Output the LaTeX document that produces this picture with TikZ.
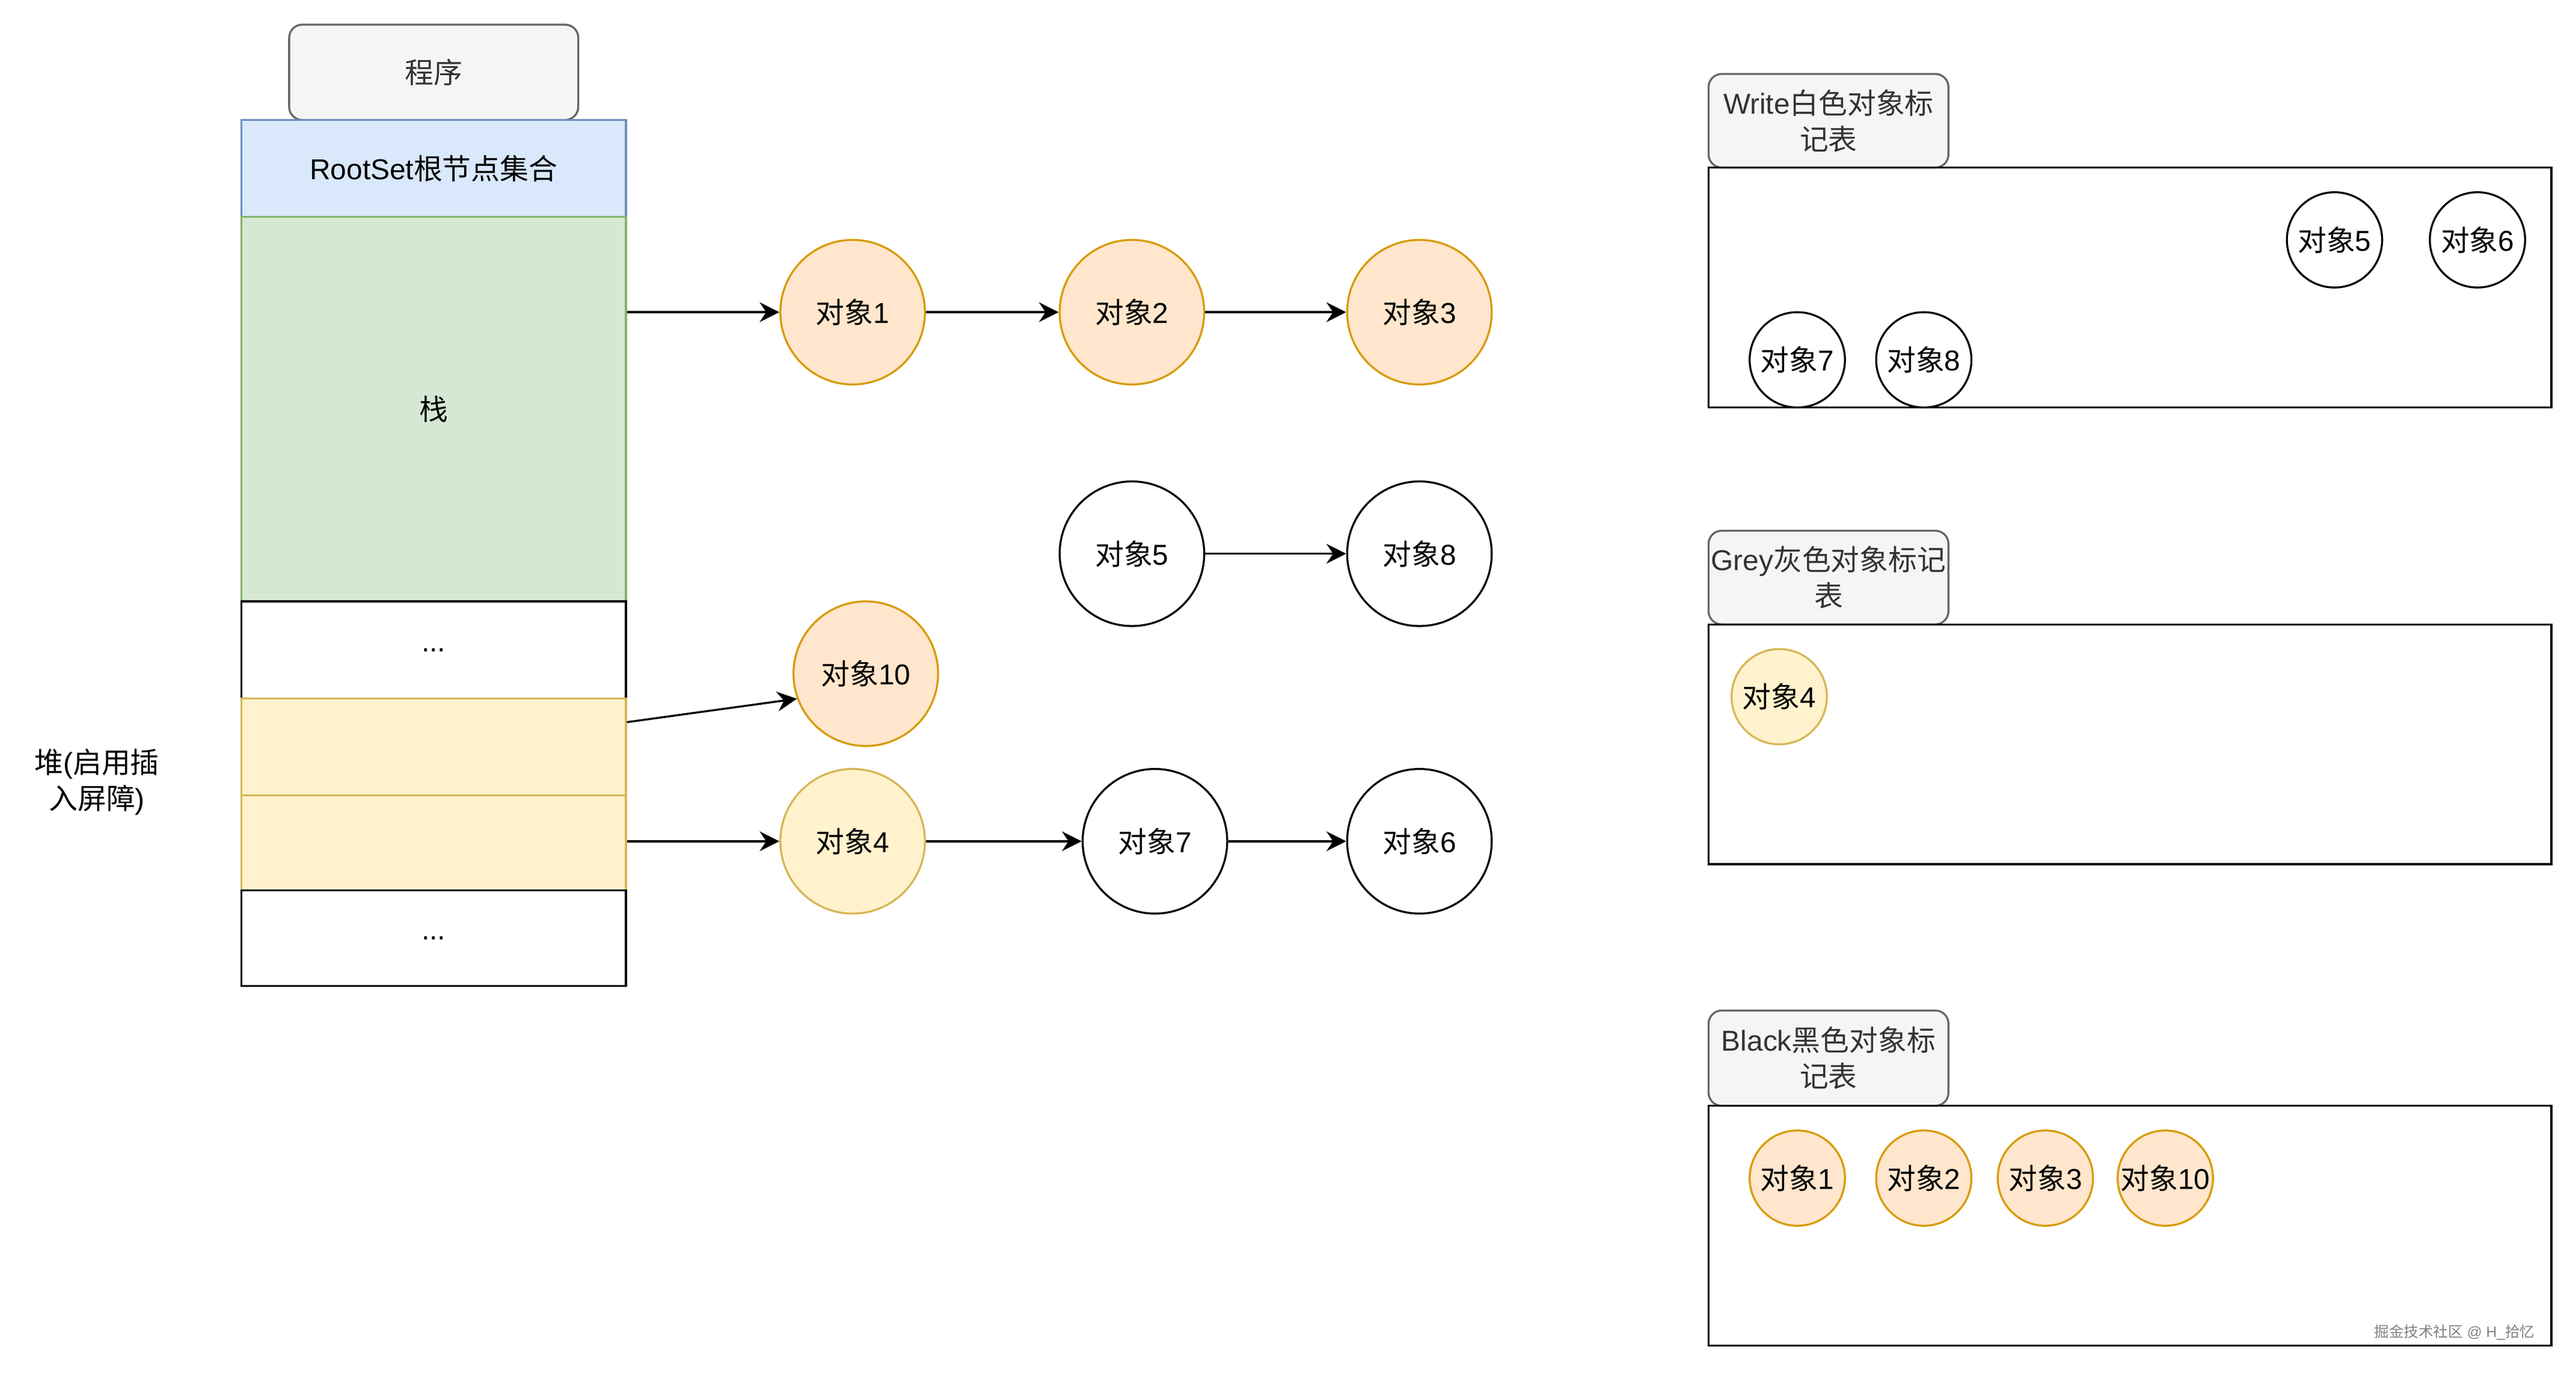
\documentclass[tikz,border=0pt]{standalone}
\usepackage{fontspec}
\setmainfont{Liberation Sans}
\newfontfamily\cjk{Noto Sans CJK SC}
\newcommand\zh[1]{{\cjk #1}}
\usetikzlibrary{arrows.meta}

\definecolor{hdrfill}{HTML}{F5F5F5}
\definecolor{hdrline}{HTML}{666666}
\definecolor{hdrtext}{HTML}{333333}
\definecolor{bluefill}{HTML}{DAE8FC}
\definecolor{blueline}{HTML}{6C8EBF}
\definecolor{greenfill}{HTML}{D5E8D4}
\definecolor{greenline}{HTML}{82B366}
\definecolor{yellowfill}{HTML}{FFF2CC}
\definecolor{yellowline}{HTML}{D6B656}
\definecolor{orangefill}{HTML}{FFE6CC}
\definecolor{orangeline}{HTML}{D79B00}

\tikzset{
  header/.style={draw=hdrline, fill=hdrfill, text=hdrtext, rounded corners=8pt,
    align=center, inner sep=0pt},
  cell/.style={draw, minimum width=234pt, inner sep=0pt},
  table/.style={draw, minimum width=513pt, minimum height=146pt, inner sep=0pt},
  obj/.style={circle, draw, fill=white, minimum size=88pt, inner sep=0pt},
  tabobj/.style={circle, draw, fill=white, minimum size=58pt, inner sep=0pt},
  orange/.style={draw=orangeline, fill=orangefill},
  yellow/.style={draw=yellowline, fill=yellowfill},
  arr/.style={-{Stealth[length=12pt, width=12pt, inset=4pt]}},
}

\begin{document}
\begin{tikzpicture}[x=1pt, y=-1pt, line width=1.2pt,
    font=\fontsize{17.5}{22}\selectfont]
  \useasboundingbox (0,0) rectangle (1568,837.4);

  % program / memory column
  \node[header, minimum width=176pt, minimum height=58pt] (prog) at (264,44) {\zh{程序}};
  \node[cell, minimum height=59pt, draw=blueline, fill=bluefill] (root) at (264,102.5) {RootSet\zh{根节点集合}};
  \node[cell, minimum height=234pt, draw=greenline, fill=greenfill] (stack) at (264,249) {\zh{栈}};
  \node[cell, minimum height=59pt] (dotsa) at (264,395.5) {...};
  \node[cell, minimum height=59pt, yellow] (heapa) at (264,454.5) {};
  \node[cell, minimum height=58pt, yellow] (heapb) at (264,513) {};
  \node[cell, minimum height=58pt] (dotsb) at (264,571) {...};
  \node[align=center] (heaplbl) at (59,476) {\zh{堆}(\zh{启用插}\\\zh{入屏障})};

  % object graph
  \node[obj, orange] (o1) at (519,190) {\zh{对象}1};
  \node[obj, orange] (o2) at (689,190) {\zh{对象}2};
  \node[obj, orange] (o3) at (864,190) {\zh{对象}3};
  \node[obj] (o5) at (689,337) {\zh{对象}5};
  \node[obj] (o8) at (864,337) {\zh{对象}8};
  \node[obj, orange] (o10) at (527,410) {\zh{对象}10};
  \node[obj, yellow] (o4) at (519,512) {\zh{对象}4};
  \node[obj] (o7) at (703,512) {\zh{对象}7};
  \node[obj] (o6) at (864,512) {\zh{对象}6};

  \draw[arr] (stack.east |- o1) -- (o1);
  \draw[arr] (o1) -- (o2);
  \draw[arr] (o2) -- (o3);
  \draw[arr] (o5) -- (o8);
  \draw[arr] ([yshift=15pt]heapa.east) -- (o10.200);
  \draw[arr] (heapb.east |- o4) -- (o4);
  \draw[arr] (o4) -- (o7);
  \draw[arr] (o7) -- (o6);

  % mark tables
  \node[header, minimum width=146pt, minimum height=57pt] (whitehdr) at (1113,73.5) {Write\zh{白色对象标}\\\zh{记表}};
  \node[table] (whitetab) at (1296.5,175) {};
  \node[tabobj] (w5) at (1421,146) {\zh{对象}5};
  \node[tabobj] (w6) at (1508,146) {\zh{对象}6};
  \node[tabobj] (w7) at (1094,219) {\zh{对象}7};
  \node[tabobj] (w8) at (1171,219) {\zh{对象}8};

  \node[header, minimum width=146pt, minimum height=57pt] (greyhdr) at (1113,351.5) {Grey\zh{灰色对象标记}\\\zh{表}};
  \node[table] (greytab) at (1296.5,453) {};
  \node[tabobj, yellow] (g4) at (1083,424) {\zh{对象}4};

  \node[header, minimum width=146pt, minimum height=58pt] (blackhdr) at (1113,644) {Black\zh{黑色对象标}\\\zh{记表}};
  \node[table] (blacktab) at (1296.5,746) {};
  \node[tabobj, orange] (b1) at (1094,717) {\zh{对象}1};
  \node[tabobj, orange] (b2) at (1171,717) {\zh{对象}2};
  \node[tabobj, orange] (b3) at (1245,717) {\zh{对象}3};
  \node[tabobj, orange] (b10) at (1318,717) {\zh{对象}10};

  \node[text=gray, font=\fontsize{9}{10}\selectfont] (mark) at (1494,811) {\zh{掘金技术社区} @ H\_\zh{拾忆}};
\end{tikzpicture}
\end{document}
